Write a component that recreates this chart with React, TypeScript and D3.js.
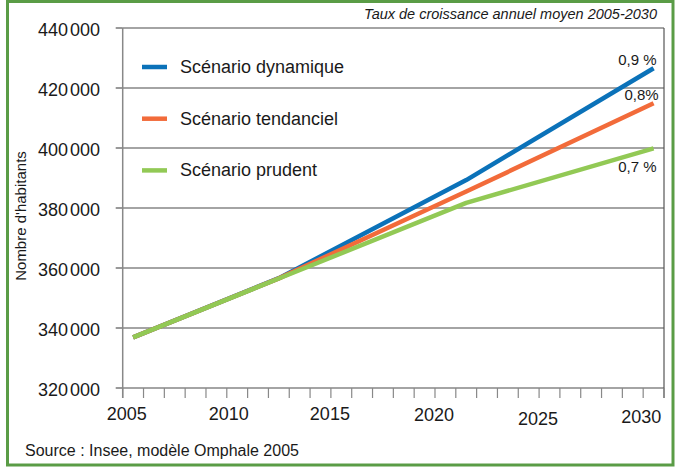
import React from "react";
import * as d3 from "d3";

const years = [2005, 2012, 2021, 2030];
const dynamique = [336900, 356600, 389300, 426600];
const tendanciel = [336900, 356550, 385500, 414900];
const prudent = [336900, 356500, 381700, 399900];
const seriesNames = ["Scénario dynamique", "Scénario tendanciel", "Scénario prudent"];
const seriesColors = ["#0b72b9", "#f26b3a", "#92c955"];
const rateLabels = ["0,9 %", "0,8%", "0,7 %"];
const yTicks = [320000, 340000, 360000, 380000, 400000, 420000, 440000];
const xLabelYears = [2005, 2010, 2015, 2020, 2025, 2030];
const xLabelDx = [4, 2, -1, -1, -1, -2];
const xLabelDy = [0, 0, 0, 1, 5, 3];
const rateLabelDx = [3, 5, 3];
const rateLabelY = [65, 100, 172];

const W = 680, H = 467;
const L = 122.7, R = 664, T = 28, B = 388;
const FONT = "'Liberation Sans', Arial, sans-serif";
const NARROW = "'Liberation Sans Narrow', 'Liberation Sans', Arial, sans-serif";

export default function App() {
  const x = d3.scaleLinear().domain([2005, 2031]).range([L, R]);
  const y = d3.scaleLinear().domain([320000, 440000]).range([B, T]);
  const fmt = d3.formatLocale({ decimal: ",", thousands: " ", grouping: [3], currency: ["", ""] }).format(",d");
  const allSeries = [dynamique, tendanciel, prudent];
  const line = d3
    .line<[number, number]>()
    .x((d) => x(d[0] + 0.5))
    .y((d) => y(d[1]));
  const yearTicks = d3.range(2005, 2032);

  return (
    <svg width={W} height={H} style={{ position: "absolute", left: 0, top: 0, display: "block", background: "#fff" }} fontFamily={FONT}>
      <rect x={7.5} y={1.5} width={665.5} height={463.5} fill="none" stroke="#5a9c46" strokeWidth={3} />
      {yTicks.map((t) => {
        const parts = fmt(t).split(" ");
        return (
          <g key={t}>
            <line x1={L} x2={R} y1={y(t)} y2={y(t)} stroke="#4a4a4a" strokeWidth={1.2} />
            <line x1={L - 7} x2={L} y1={y(t)} y2={y(t)} stroke="#555" strokeWidth={1.2} />
            <text x={100} y={y(t) + 7.5} textAnchor="end" fontSize={18} fill="#1a1a1a">
              {parts[0]}
              <tspan dx={2}>{parts[1]}</tspan>
            </text>
          </g>
        );
      })}
      <line x1={L} x2={L} y1={T} y2={B + 10} stroke="#888" strokeWidth={1.5} />
      <line x1={R} x2={R} y1={T} y2={B + 10} stroke="#555" strokeWidth={1.2} />
      {yearTicks.map((yr) => (
        <line key={yr} x1={x(yr)} x2={x(yr)} y1={B} y2={B + 10} stroke="#888" strokeWidth={1.2} />
      ))}
      {xLabelYears.map((yr, i) => (
        <text key={yr} x={x(yr) + xLabelDx[i]} y={420 + xLabelDy[i]} textAnchor="middle" fontSize={18} fill="#1a1a1a">
          {yr}
        </text>
      ))}
      {allSeries.map((s, i) => (
        <path
          key={i}
          d={line(years.map((yr, j) => [yr, s[j]] as [number, number])) || ""}
          fill="none"
          stroke={seriesColors[i]}
          strokeWidth={4.5}
          strokeLinejoin="round"
        />
      ))}
      {rateLabels.map((lab, i) => (
        <text key={lab} x={x(2030.5) + rateLabelDx[i]} y={rateLabelY[i]} textAnchor="end" fontSize={15} fontFamily={NARROW} fill="#1a1a1a">
          {lab}
        </text>
      ))}
      {seriesNames.map((n, i) => (
        <g key={n} transform={`translate(0, ${67 + i * 51.7})`}>
          <line x1={142} x2={167} y1={0} y2={0} stroke={seriesColors[i]} strokeWidth={4.5} />
          <text x={180} y={6} fontSize={18} fill="#1a1a1a">
            {n}
          </text>
        </g>
      ))}
      <text x={657} y={19} textAnchor="end" fontSize={14.5} fontStyle="italic" fill="#1a1a1a">
        Taux de croissance annuel moyen 2005-2030
      </text>
      <text transform={`translate(26, 216) rotate(-90)`} textAnchor="middle" fontSize={15} fontFamily={NARROW} fill="#1a1a1a">
        Nombre d'habitants
      </text>
      <text x={25} y={456} fontSize={16} fill="#1a1a1a">
        Source : Insee, modèle Omphale 2005
      </text>
    </svg>
  );
}
